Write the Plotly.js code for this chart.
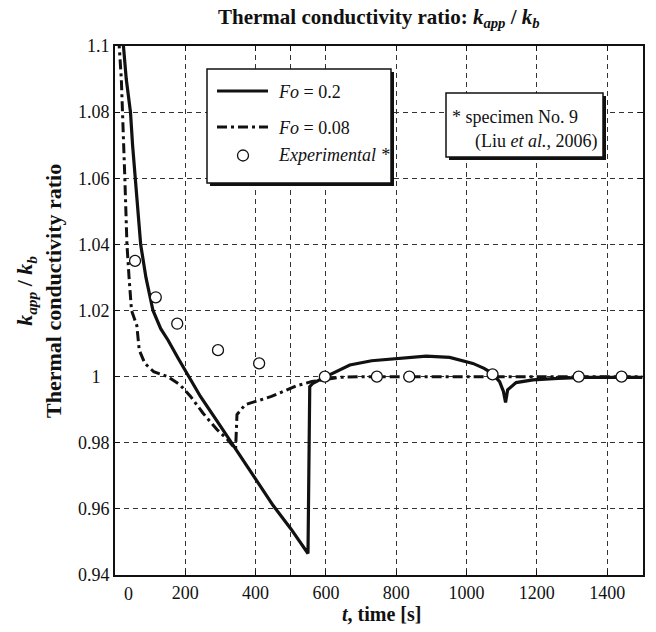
<!DOCTYPE html>
<html><head><meta charset="utf-8">
<script src="https://cdn.plot.ly/plotly-3.0.1.min.js"></script>
<style>html,body{margin:0;padding:0;background:#fff}</style>
</head><body><div id="chart" style="width:656px;height:632px"></div>
<script>
// Fo = 0.2 (solid)
const fo02Time  = [20, 24, 32, 44, 50, 57, 64, 73, 88, 108, 130, 151, 180, 210, 243, 300, 350, 400, 450, 500, 549, 554, 563, 600, 668, 730, 800, 885, 952, 1018, 1050, 1073, 1094, 1105, 1111, 1117, 1141, 1189, 1260, 1331, 1500];
const fo02Ratio = [1.115, 1.1, 1.09, 1.08, 1.07, 1.06, 1.05, 1.04, 1.03, 1.02, 1.0145, 1.011, 1.0055, 1.0, 0.994, 0.985, 0.977, 0.969, 0.961, 0.954, 0.9465, 0.997, 0.998, 1.0, 1.0035, 1.0048, 1.0055, 1.0062, 1.0058, 1.004, 1.0025, 1.001, 0.9985, 0.9955, 0.9922, 0.996, 0.9982, 0.999, 0.9995, 0.9998, 0.9998];
// Fo = 0.08 (dash-dot)
const fo008Time  = [8, 12, 18, 22, 25, 28, 31, 34, 40, 47, 62, 69, 85, 110, 150, 185, 215, 250, 290, 320, 343, 347, 370, 412, 445, 516, 560, 600, 639, 700, 1500];
const fo008Ratio = [1.115, 1.1, 1.09, 1.08, 1.07, 1.06, 1.05, 1.04, 1.03, 1.02, 1.0155, 1.008, 1.004, 1.0015, 1.0, 0.9975, 0.994, 0.989, 0.984, 0.981, 0.978, 0.9885, 0.9915, 0.993, 0.994, 0.9972, 0.9985, 0.9992, 0.9998, 1.0, 1.0];
// Experimental (Liu et al., 2006)
const expTime  = [57, 116, 177, 293, 410, 597, 745, 837, 1074, 1319, 1441];
const expRatio = [1.035, 1.024, 1.016, 1.008, 1.004, 1.0, 1.0, 1.0, 1.0007, 1.0, 1.0];
// ticks
const xTickVals = [200, 400, 600, 800, 1000, 1200, 1400];
const xTickText = ['200', '400', '600', '800', '1000', '1200', '1400'];
const xExtraGrid = [500];
const yTickVals = [0.94, 0.96, 0.98, 1.0, 1.02, 1.04, 1.06, 1.08, 1.1];
const yTickText = ['0.94', '0.96', '0.98', '1\u2007', '1.02', '1.04', '1.06', '1.08', '1.1'];

const FONT = '"Liberation Serif", "Times New Roman", Times, serif';
const L = 115, T = 46, W = 528, H = 529;
const px = x => (x - L) / W;
const py = y => (T + H - y) / H;

const traces = [
  {x: fo02Time, y: fo02Ratio, mode: 'lines', line: {color: '#111', width: 3.2}, showlegend: false, hoverinfo: 'skip'},
  {x: fo008Time, y: fo008Ratio, mode: 'lines', line: {color: '#111', width: 3, dash: '10px,4px,3px,4px'}, showlegend: false, hoverinfo: 'skip'},
  {x: expTime, y: expRatio, mode: 'markers', marker: {symbol: 'circle', size: 11, color: '#fff', line: {color: '#111', width: 1.3}}, showlegend: false, cliponaxis: false}
];

const axisCommon = {
  showline: true, linewidth: 2, linecolor: '#111', mirror: 'allticks',
  ticks: 'inside', ticklen: 5, tickwidth: 1, tickcolor: '#111',
  showgrid: true, gridcolor: '#333', gridwidth: 1, griddash: '5px,4px',
  zeroline: false, tickmode: 'array',
  tickfont: {family: FONT, size: 18, color: '#111'}
};

const shapes = [
  // legend box shadow + box
  {type: 'rect', xref: 'paper', yref: 'paper', x0: px(210), x1: px(394), y0: py(72), y1: py(186), fillcolor: '#111', line: {width: 0}, layer: 'above'},
  {type: 'rect', xref: 'paper', yref: 'paper', x0: px(207), x1: px(391), y0: py(69), y1: py(183), fillcolor: '#fff', line: {color: '#111', width: 1.5}, layer: 'above'},
  {type: 'line', xref: 'paper', yref: 'paper', x0: px(217), x1: px(268), y0: py(91), y1: py(91), line: {color: '#111', width: 3}, layer: 'above'},
  {type: 'line', xref: 'paper', yref: 'paper', x0: px(217), x1: px(268), y0: py(127), y1: py(127), line: {color: '#111', width: 3, dash: '10px,4px,3px,4px'}, layer: 'above'},
  {type: 'circle', xref: 'paper', yref: 'paper', x0: px(237.5), x1: px(248.5), y0: py(150), y1: py(161), fillcolor: '#fff', line: {color: '#111', width: 1.3}, layer: 'above'},
  // specimen box shadow + box
  {type: 'rect', xref: 'paper', yref: 'paper', x0: px(449), x1: px(606), y0: py(96), y1: py(160), fillcolor: '#111', line: {width: 0}, layer: 'above'},
  {type: 'rect', xref: 'paper', yref: 'paper', x0: px(446), x1: px(603), y0: py(93), y1: py(157), fillcolor: '#fff', line: {color: '#111', width: 1.5}, layer: 'above'}
];

const ann = (x, y, text, opts) => Object.assign({xref: 'paper', yref: 'paper', x: px(x), y: py(y), text: text, showarrow: false, xanchor: 'left', yanchor: 'middle', font: {family: FONT, size: 18, color: '#111'}}, opts || {});

const annotations = [
  ann(276, 92, '<i>Fo</i> = 0.2'),
  ann(276, 128, '<i>Fo</i> = 0.08'),
  ann(276, 155, '<i>Experimental *</i>'),
  ann(450, 117, '* specimen No. 9'),
  ann(600, 142, '(Liu <i>et al.</i>, 2006)', {xanchor: 'right'}),
  ann(379, 18, '<b>Thermal conductivity ratio: <i>k</i><sub><i>app</i></sub> / <i>k</i><sub><i>b</i></sub></b>', {xanchor: 'center', font: {family: FONT, size: 21, color: '#111'}}),
  ann(381, 614, '<b><i>t</i>, time [s]</b>', {xanchor: 'center', font: {family: FONT, size: 20, color: '#111'}}),
  ann(39, 291, '<b><i>k</i><sub><i>app</i></sub> / <i>k</i><sub><i>b</i></sub></b><br><b>Thermal conductivity ratio</b>', {xanchor: 'center', textangle: -90, font: {family: FONT, size: 22, color: '#111'}}),
  // the "0" tick label, drawn slightly right of the corner as in the source
  {xref: 'x', yref: 'paper', x: 0, y: 0, yshift: -19, xshift: 13, text: '0', showarrow: false, xanchor: 'center', yanchor: 'middle', font: {family: FONT, size: 18, color: '#111'}}
];

const layout = {
  width: 656, height: 632,
  margin: {l: L, r: 656 - L - W, t: T, b: 632 - T - H},
  paper_bgcolor: '#fff', plot_bgcolor: '#fff',
  showlegend: false,
  font: {family: FONT, color: '#111'},
  xaxis: Object.assign({}, axisCommon, {
    range: [0, 1502], tickvals: xTickVals, ticktext: xTickText,
    minor: {tickmode: 'array', tickvals: xExtraGrid, showgrid: true, gridcolor: '#333', gridwidth: 1, griddash: '5px,4px', ticks: 'inside', ticklen: 5, tickwidth: 1, tickcolor: '#111'}
  }),
  yaxis: Object.assign({}, axisCommon, {range: [0.94, 1.1], tickvals: yTickVals, ticktext: yTickText}),
  shapes: shapes,
  annotations: annotations
};

Plotly.newPlot('chart', traces, layout, {staticPlot: true});
</script></body></html>
